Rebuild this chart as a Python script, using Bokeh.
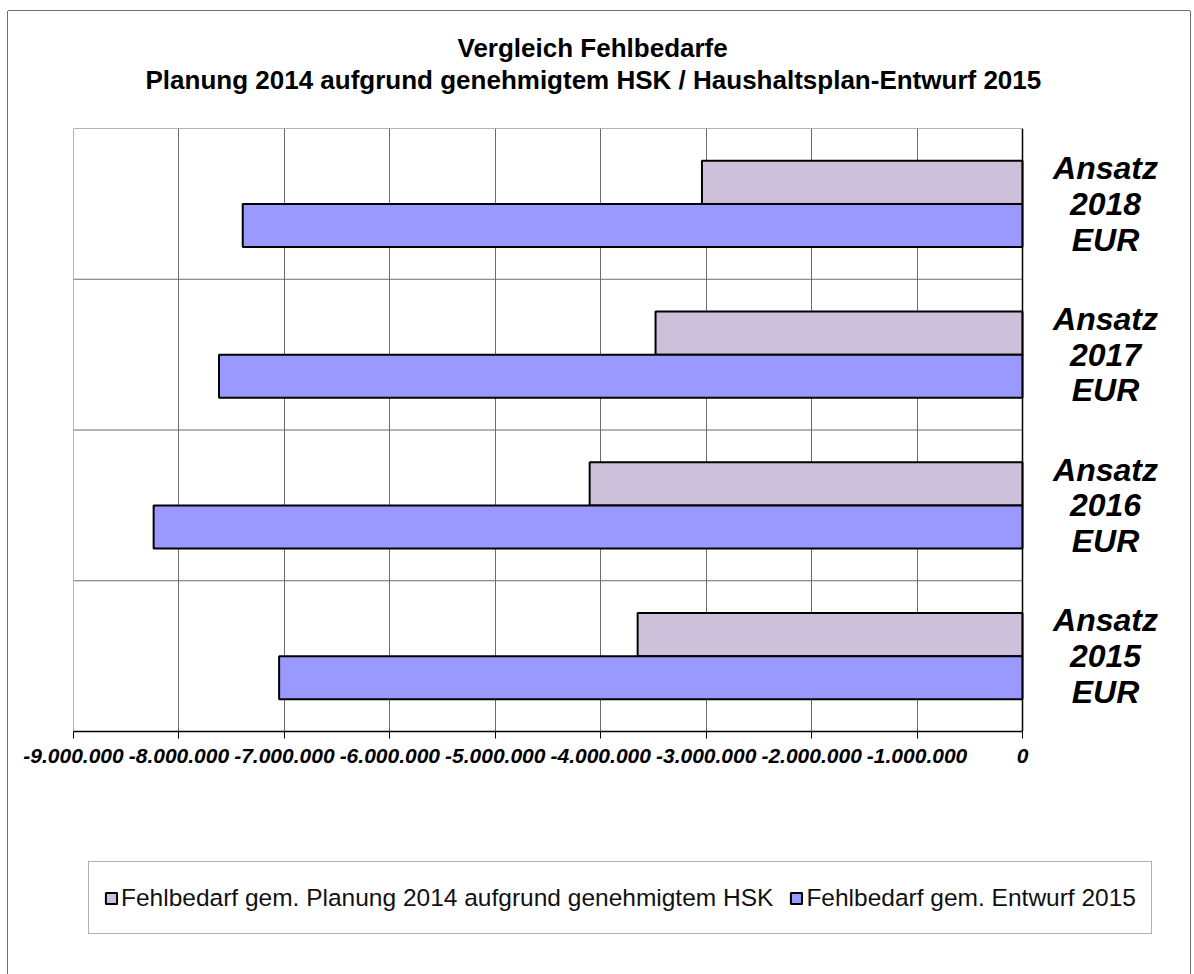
from bokeh.plotting import figure
from bokeh.layouts import column
from bokeh.models import (ColumnDataSource, Range1d, FixedTicker, Legend, LegendItem,
                          Title, Span)
from bokeh.embed import file_html
from bokeh.resources import INLINE
from bokeh.core.properties import value

# ---------------- data ----------------
categories = ["Ansatz 2015 EUR", "Ansatz 2016 EUR", "Ansatz 2017 EUR", "Ansatz 2018 EUR"]
category_labels = ["Ansatz\n2015\nEUR", "Ansatz\n2016\nEUR", "Ansatz\n2017\nEUR", "Ansatz\n2018\nEUR"]
planung_2014 = [-3650000, -4105000, -3480000, -3040000]
entwurf_2015 = [-7050000, -8240000, -7620000, -7395000]
series_names = ["Fehlbedarf gem. Planung 2014 aufgrund genehmigtem HSK",
                "Fehlbedarf gem. Entwurf 2015"]
x_ticks = [-9000000, -8000000, -7000000, -6000000, -5000000, -4000000, -3000000,
           -2000000, -1000000, 0]
x_tick_labels = ["-9.000.000", "-8.000.000", "-7.000.000", "-6.000.000", "-5.000.000",
                 "-4.000.000", "-3.000.000", "-2.000.000", "-1.000.000", "0"]
title_lines = ["Vergleich Fehlbedarfe",
               "Planung 2014 aufgrund genehmigtem HSK / Haushaltsplan-Entwurf 2015"]

# ---------------- styling / layout ----------------
FONT = "Liberation Sans"
C_PLAN = "#CCC0DA"
C_ENTW = "#9999FF"
GRID = "#6b6b6b"
W = 1182
H_MAIN, H_LEG = 780, 183
BL, BT, BB, BR = 65, 117, 60, 4           # borders of the main figure
PLOT_W = 949                              # pixel width of the value area (-9 Mio .. 0)
FRAME_W = W - BL - BR                     # frame also hosts the category labels
x_start = x_ticks[0]
x_end = x_ticks[-1] + (x_ticks[-1] - x_start) * (FRAME_W - PLOT_W) / PLOT_W

bar_h = 2.0 / 7.0          # two bars take 4/7 of a category band
pos = list(range(len(categories)))
bounds_y = [c - 0.5 for c in range(len(categories) + 1)]

src = ColumnDataSource(dict(
    y_plan=[c + bar_h / 2 for c in pos],
    y_entw=[c - bar_h / 2 for c in pos],
    plan=planung_2014,
    entw=entwurf_2015,
    zero=[0] * len(pos),
    ycat=pos,
    lab=category_labels,
))
grid_src = ColumnDataSource(dict(y=bounds_y, x0=[x_start] * len(bounds_y),
                                 x1=[x_ticks[-1]] * len(bounds_y)))

p = figure(width=W, height=H_MAIN, output_backend="svg", toolbar_location=None,
           x_range=Range1d(x_start, x_end),
           y_range=Range1d(bounds_y[0], bounds_y[-1]),
           y_axis_location=None,
           min_border_left=BL, min_border_right=BR,
           min_border_top=BT, min_border_bottom=BB)
p.background_fill_color = "white"
p.border_fill_color = "white"
p.outline_line_color = None

# grids: vertical lines at the value ticks, horizontal lines between categories
p.xgrid.ticker = FixedTicker(ticks=x_ticks)
p.xgrid.grid_line_color = GRID
p.xgrid.grid_line_width = 1
p.ygrid.grid_line_color = None
p.segment(x0="x0", x1="x1", y0="y", y1="y", source=grid_src,
          line_color=GRID, line_width=1)
p.add_layout(Span(location=x_start, dimension="height", line_color=GRID, line_width=1))

r_plan = p.hbar(y="y_plan", left="plan", right="zero", height=bar_h, source=src,
                fill_color=C_PLAN, line_color="black", line_width=2)
r_entw = p.hbar(y="y_entw", left="entw", right="zero", height=bar_h, source=src,
                fill_color=C_ENTW, line_color="black", line_width=2)

# value axis line at zero
p.add_layout(Span(location=x_ticks[-1], dimension="height", line_color="black",
                  line_width=1.5))

# category labels to the right of the zero line
p.text(x="zero", y="ycat", text="lab", source=src, x_offset=83,
       text_align="center", text_baseline="middle",
       text_font=value(FONT), text_font_size="32px", text_font_style="bold italic",
       text_color="black", text_line_height=0.99)

# x axis
xa = p.xaxis[0]
xa.bounds = (x_start, x_ticks[-1])
xa.ticker = FixedTicker(ticks=x_ticks)
xa.major_label_overrides = {t: s for t, s in zip(x_ticks, x_tick_labels)}
xa.axis_line_color = "black"
xa.axis_line_width = 1.5
xa.major_tick_line_color = "black"
xa.major_tick_out = 7
xa.major_tick_in = 0
xa.minor_tick_line_color = None
xa.major_label_standoff = 10
xa.major_label_text_font = FONT
xa.major_label_text_font_size = "21px"
xa.major_label_text_font_style = "bold italic"
xa.major_label_text_color = "black"

# title: two lines above the plot area (a thin spacer keeps them off the frame)
p.title = None
spacer = Title(text=" ", text_font_size="1px", standoff=31)
t2 = Title(text=title_lines[1], align="left", offset=72, text_font=FONT,
           text_font_size="26px", text_font_style="bold", text_color="black",
           standoff=0)
t1 = Title(text=title_lines[0], align="left", offset=384, text_font=FONT,
           text_font_size="26px", text_font_style="bold", text_color="black",
           standoff=0, text_line_height=1.0)
p.add_layout(spacer, "above")
p.add_layout(t2, "above")
p.add_layout(t1, "above")

# legend strip below
p2 = figure(width=W, height=H_LEG, output_backend="svg", toolbar_location=None,
            x_axis_location=None, y_axis_location=None,
            x_range=Range1d(0, 1), y_range=Range1d(0, 1),
            min_border_left=0, min_border_right=0, min_border_top=0, min_border_bottom=0)
p2.outline_line_color = None
p2.xgrid.visible = False
p2.ygrid.visible = False
# legend keys only (zero-width bars outside the visible range)
key_src = ColumnDataSource(dict(y=[-5], l=[0], r=[0]))
k_plan = p2.hbar(y="y", left="l", right="r", height=0.5, source=key_src,
                 fill_color=C_PLAN, line_color="black", line_width=2)
k_entw = p2.hbar(y="y", left="l", right="r", height=0.5, source=key_src,
                 fill_color=C_ENTW, line_color="black", line_width=2)
legend = Legend(items=[LegendItem(label=series_names[0], renderers=[k_plan]),
                       LegendItem(label=series_names[1], renderers=[k_entw])],
                location=(15, 40), orientation="horizontal",
                label_text_font=FONT, label_text_font_size="24.5px",
                label_text_color="#111111",
                glyph_width=14, glyph_height=14, label_standoff=3,
                spacing=16, padding=15, label_height=41, margin=0,
                border_line_color="#606060", border_line_width=1,
                background_fill_color="white", background_fill_alpha=1)
p2.add_layout(legend, "center")

page = column(p, p2, spacing=0, margin=(11, 0, 0, 8),
              styles={"box-shadow": "-1px 0 0 0 #6f6f6f, 1px 0 0 0 #6f6f6f, 0 -1px 0 0 #6f6f6f"})

open("out.html", "w").write(file_html(page, INLINE))
